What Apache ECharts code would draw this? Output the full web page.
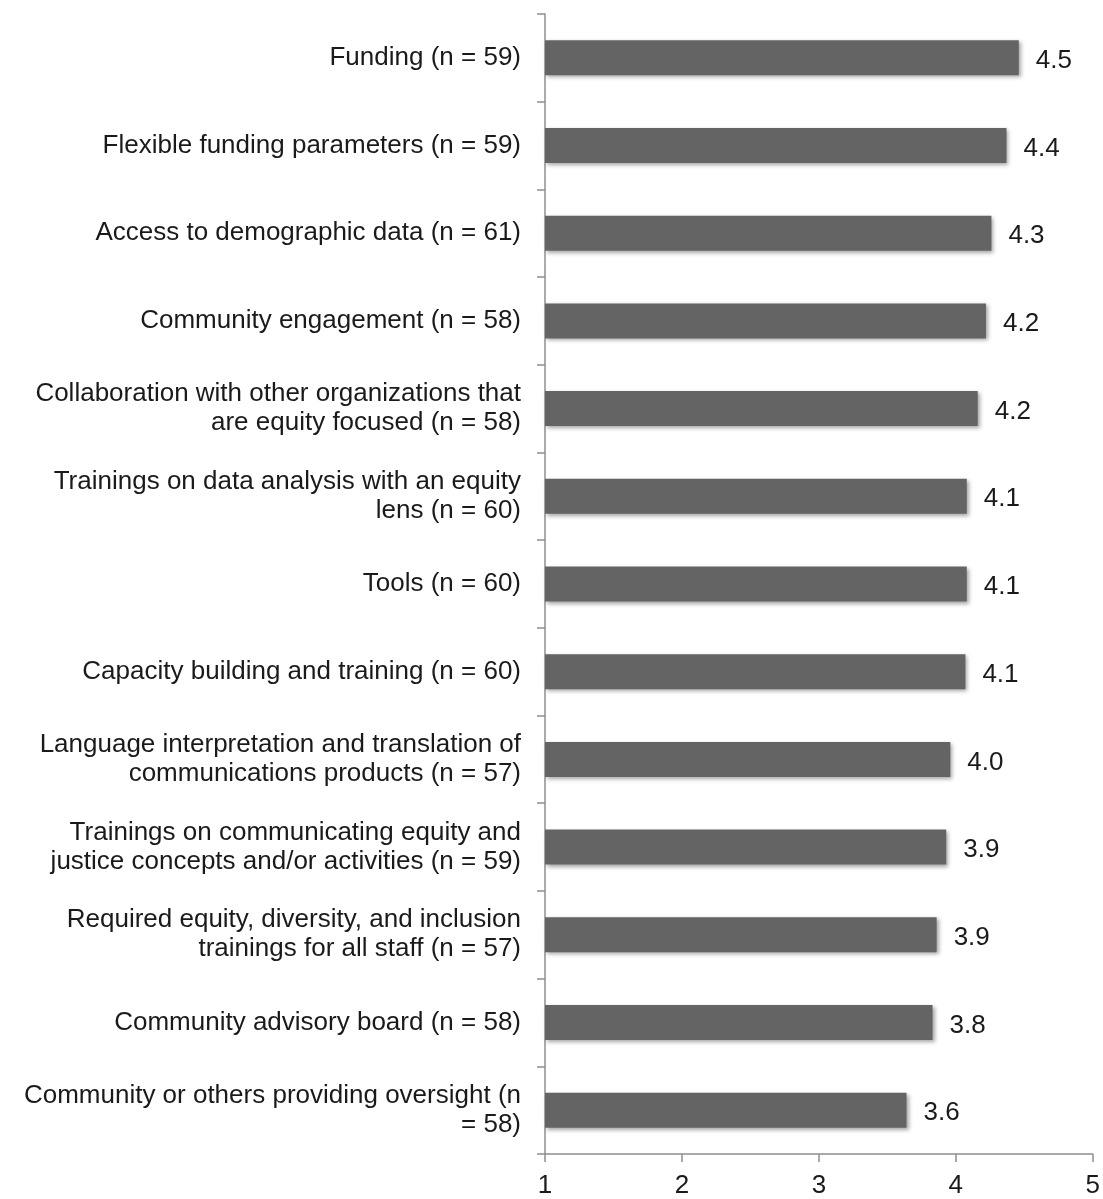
<!DOCTYPE html>
<html>
<head>
<meta charset="utf-8">
<script src="https://cdn.jsdelivr.net/npm/echarts@6/dist/echarts.min.js"></script>
<style>
  html, body { margin: 0; padding: 0; background: #ffffff; }
  #chart { width: 1103px; height: 1199px; }
</style>
</head>
<body>
<div id="chart"></div>
<script>
// Support items, listed top to bottom
const categories = [
  'Funding (n = 59)',
  'Flexible funding parameters (n = 59)',
  'Access to demographic data (n = 61)',
  'Community engagement (n = 58)',
  'Collaboration with other organizations that\nare equity focused (n = 58)',
  'Trainings on data analysis with an equity\nlens (n = 60)',
  'Tools (n = 60)',
  'Capacity building and training (n = 60)',
  'Language interpretation and translation of\ncommunications products (n = 57)',
  'Trainings on communicating equity and\njustice concepts and/or activities (n = 59)',
  'Required equity, diversity, and inclusion\ntrainings for all staff (n = 57)',
  'Community advisory board (n = 58)',
  'Community or others providing oversight (n\n= 58)'
];

// Mean rating for each item
const meanRatings = [4.46, 4.37, 4.26, 4.22, 4.16, 4.08, 4.08, 4.07, 3.96, 3.93, 3.86, 3.83, 3.64];

// Rating scale ticks
const scaleTicks = [1, 2, 3, 4, 5];

const font = 'Liberation Sans, Arial, Helvetica, sans-serif';
const axisGrey = '#8f8f8f';

const chart = echarts.init(document.getElementById('chart'));
chart.setOption({
  backgroundColor: '#ffffff',
  animation: false,
  grid: { left: 545, right: 9, top: 14, bottom: 43, containLabel: false },
  xAxis: {
    type: 'value',
    min: scaleTicks[0],
    max: scaleTicks[scaleTicks.length - 1],
    interval: 1,
    axisLine: { show: true, lineStyle: { color: axisGrey, width: 1.5 } },
    axisTick: { show: true, length: 8, lineStyle: { color: axisGrey, width: 1.5 } },
    splitLine: { show: false },
    axisLabel: {
      margin: 19,
      color: '#1a1a1a',
      fontFamily: font,
      fontSize: 26
    }
  },
  yAxis: {
    type: 'category',
    data: categories,
    inverse: true,
    axisLine: { show: true, lineStyle: { color: axisGrey, width: 1.5 } },
    axisTick: { show: true, length: 8, lineStyle: { color: axisGrey, width: 1.5 } },
    axisLabel: {
      margin: 24,
      color: '#1a1a1a',
      fontFamily: font,
      fontSize: 26,
      lineHeight: 29,
      padding: [0, 0, -8, 0],
      align: 'right'
    }
  },
  series: [{
    type: 'bar',
    data: meanRatings,
    barWidth: 35,
    itemStyle: {
      color: '#646464',
      shadowColor: 'rgba(0,0,0,0.35)',
      shadowBlur: 4,
      shadowOffsetX: 2,
      shadowOffsetY: 2
    },
    label: {
      show: true,
      position: 'right',
      distance: 17,
      offset: [0, 3],
      color: '#1a1a1a',
      fontFamily: font,
      fontSize: 26,
      formatter: p => p.value.toFixed(1)
    }
  }]
});
</script>
</body>
</html>
